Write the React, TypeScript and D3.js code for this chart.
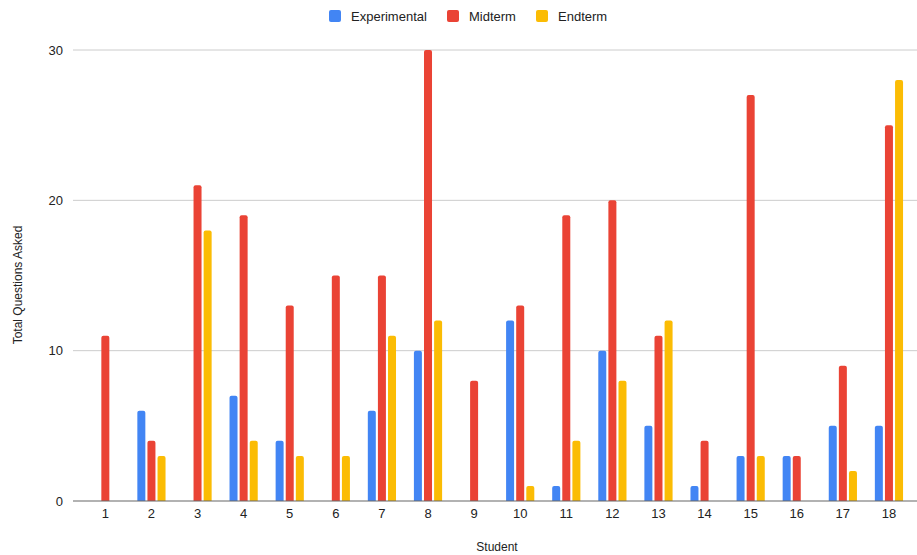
import React from "react";
import * as d3 from "d3";

const students = ["1","2","3","4","5","6","7","8","9","10","11","12","13","14","15","16","17","18"];
const experimental = [0, 6, 0, 7, 4, 0, 6, 10, 0, 12, 1, 10, 5, 1, 3, 3, 5, 5];
const midterm = [11, 4, 21, 19, 13, 15, 15, 30, 8, 13, 19, 20, 11, 4, 27, 3, 9, 25];
const endterm = [0, 3, 18, 4, 3, 3, 11, 12, 0, 1, 4, 8, 12, 0, 3, 0, 2, 28];
const seriesNames = ["Experimental", "Midterm", "Endterm"];
const seriesColors = ["#4285F4", "#EA4335", "#FBBC04"];
const yTicks = [0, 10, 20, 30];

const W = 917;
const H = 555;
const FONT = "Arial, 'Liberation Sans', sans-serif";

export default function App() {
  const series = [experimental, midterm, endterm];
  const x = d3.scaleBand<string>().domain(students).range([82.3, 912]);
  const y = d3.scaleLinear().domain([0, 30]).range([501, 50]);
  const barW = 8;
  const step = 10.1;

  const legendX = [329, 447, 536];

  return (
    <svg width={W} height={H} style={{ position: "absolute", left: 0, top: 0, background: "#fff" }}>
      {/* legend */}
      {seriesNames.map((name, i) => (
        <g key={name}>
          <rect x={legendX[i]} y={10} width={12} height={12} rx={2} fill={seriesColors[i]} />
          <text x={legendX[i] + 22} y={21} fontFamily={FONT} fontSize={13} fill="#222">{name}</text>
        </g>
      ))}

      {/* gridlines and y ticks */}
      {yTicks.map((t) => (
        <g key={t}>
          {t !== 0 && <line x1={73} x2={917} y1={y(t)} y2={y(t)} stroke="#cccccc" strokeWidth={1} />}
          <text x={63} y={y(t) + 4.5} textAnchor="end" fontFamily={FONT} fontSize={13} fill="#222">{t}</text>
        </g>
      ))}

      {/* bars */}
      {students.map((s, ci) => {
        const cx = x(s)! + x.bandwidth() / 2;
        return (
          <g key={s}>
            {series.map((vals, si) => {
              const v = vals[ci];
              if (v <= 0) return null;
              const bx = cx + (si - 1) * step - barW / 2;
              const top = y(v);
              const h = y(0) - top;
              const r = 2;
              const path = `M${bx},${y(0)} V${top + r} Q${bx},${top} ${bx + r},${top} H${bx + barW - r} Q${bx + barW},${top} ${bx + barW},${top + r} V${y(0)} Z`;
              return <path key={si} d={path} fill={seriesColors[si]} />;
            })}
            <text x={cx} y={518} textAnchor="middle" fontFamily={FONT} fontSize={13} fill="#222">{s}</text>
          </g>
        );
      })}

      {/* baseline */}
      <line x1={73} x2={917} y1={y(0)} y2={y(0)} stroke="#666" strokeWidth={1.2} />

      {/* axis titles */}
      <text x={497} y={551} textAnchor="middle" fontFamily={FONT} fontSize={12} fill="#222">Student</text>
      <text transform={`translate(22,285) rotate(-90)`} textAnchor="middle" fontFamily={FONT} fontSize={12} fill="#222">Total Questions Asked</text>
    </svg>
  );
}
